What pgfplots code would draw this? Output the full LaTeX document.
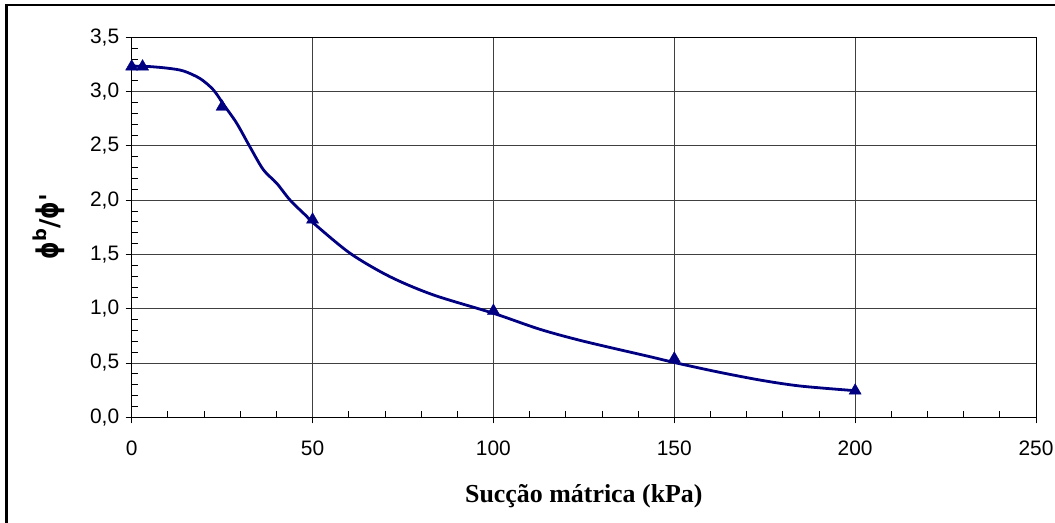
\documentclass[border=0pt]{standalone}
\usepackage{pgfplots}
\pgfplotsset{compat=1.18}
\usepackage{fontspec}
\setmainfont{Liberation Sans}
\newfontfamily\serifb{Liberation Serif}
\newfontfamily\dejavu{DejaVu Sans}
\usepackage{graphicx}
\definecolor{navy}{RGB}{0,0,128}

\begin{document}
\begin{tikzpicture}[x=1bp,y=1bp]
\path[use as bounding box] (0,0) rectangle (1055,523);
\draw[line width=2.3bp] (6.5,-5) -- (6.5,518) -- (1060,518);
\begin{axis}[
  at={(131.7bp,105.7bp)}, anchor=south west,
  scale only axis, width=904.3bp, height=380bp,
  xmin=0, xmax=250, ymin=0, ymax=3.5,
  xtick={0,50,100,150,200,250},
  ytick={0,0.5,1,1.5,2,2.5,3,3.5},
  minor x tick num=4, minor y tick num=4,
  xtick pos=left, ytick pos=left,
  tick align=outside,
  major tick length=6bp, minor tick length=-6bp,
  grid=major,
  major grid style={black!75, line width=0.8bp},
  axis line style={line width=1bp},
  tick style={black, line width=0.8bp},
  ticklabel style={font=\fontsize{21}{21}\selectfont},
  /pgf/number format/assume math mode=true,
  yticklabel style={xshift=-3bp, /pgf/number format/.cd, fixed, fixed zerofill, precision=1, use comma},
  xticklabel style={yshift=-14bp, /pgf/number format/.cd, fixed, precision=0},
  scaled y ticks=false, scaled x ticks=false,
  xlabel={\serifb\bfseries Sucção mátrica (kPa)},
  xlabel style={font=\fontsize{26}{26}\selectfont, at={(axis description cs:0.5,-0.207)}, anchor=center},
  ylabel={\dejavu\bfseries \scalebox{0.85}[1.15]{ϕ}\raisebox{0.45em}{\fontsize{18}{18}\selectfont b}/\scalebox{0.85}[1.15]{ϕ}'},
  ylabel style={font=\fontsize{26}{26}\selectfont, at={(axis description cs:-0.092,0.502)}, anchor=center},
]
\addplot[navy, line width=2.8bp, smooth, tension=0.5] coordinates {
(0,3.235) (5,3.23) (10,3.215) (14.3,3.19) (18.9,3.12) (22.6,3.015) (25.5,2.876)
(29,2.71) (32.7,2.49) (36.4,2.28) (40.1,2.155) (43.8,2.0) (48.4,1.85) (50.2,1.79)
(60.4,1.51) (71.4,1.295) (83.4,1.127) (100,0.958) (112.9,0.81) (125,0.70)
(143.3,0.558) (150.2,0.503) (161.7,0.42) (173.7,0.343) (184.8,0.288) (200,0.245)
};
\addplot[only marks, mark=triangle*, mark size=7bp, navy, mark options={fill=navy, draw=navy}] coordinates {
(0,3.23) (3,3.23) (25,2.86) (50,1.82) (100,0.98) (150,0.54) (200,0.245)
};
\end{axis}
\end{tikzpicture}
\end{document}
